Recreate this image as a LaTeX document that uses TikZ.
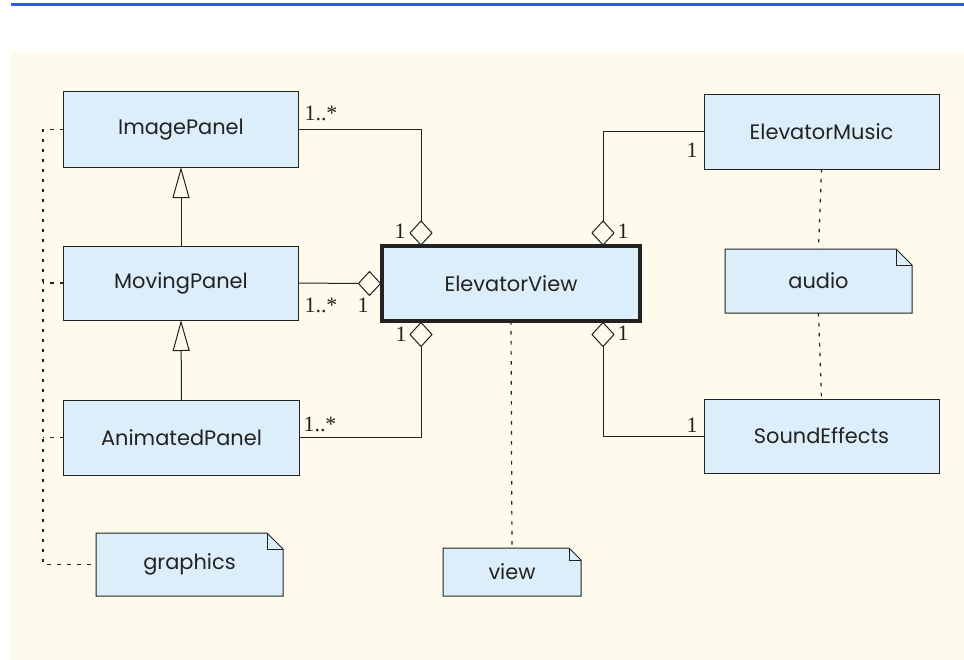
\documentclass[tikz,border=0pt]{standalone}
\usepackage{fontspec}
\setmainfont{Poppins}
\newfontfamily\multfont{Liberation Serif}
\usetikzlibrary{shapes.geometric,arrows.meta}
\definecolor{cream}{RGB}{254,250,236}
\definecolor{boxblue}{RGB}{220,238,250}
\definecolor{topblue}{RGB}{50,88,236}
\definecolor{ink}{RGB}{34,34,34}
\tikzset{
  cls/.style={draw=ink, fill=boxblue, line width=1bp, inner sep=0pt, outer sep=0pt,
    font=\fontsize{21}{24}\selectfont, text=ink},
  notebox/.style={inner sep=0pt, outer sep=0pt, font=\fontsize{21}{24}\selectfont, text=ink},
  diam/.style={diamond, draw=ink, fill=cream, line width=1bp, inner sep=0pt, outer sep=0pt,
    minimum width=22bp, minimum height=24bp},
  conn/.style={draw=ink, line width=1bp},
  dashline/.style={draw=ink, line width=1.2bp, dash pattern=on 3.5bp off 6.5bp},
  mult/.style={font=\multfont\fontsize{22}{24}\selectfont, text=ink, inner sep=0pt},
  inherit/.style={conn, -{Triangle[fill=cream, width=17bp, length=31bp, line width=1bp]}}
}
\newcommand{\notedraw}[2]{%
  \draw[draw=ink, fill=boxblue, line width=1bp]
    (#1.south west) -- (#1.north west) -- ([xshift=-#2]#1.north east)
    -- ([yshift=-#2]#1.north east) -- (#1.south east) -- cycle;
  \draw[draw=ink, line width=1bp]
    ([xshift=-#2]#1.north east) -- ([xshift=-#2,yshift=-#2]#1.north east)
    -- ([yshift=-#2]#1.north east);
}
\begin{document}
\begin{tikzpicture}[x=1bp, y=-1bp]
\useasboundingbox (0,0) rectangle (964,660);
\fill[cream] (11,52) rectangle (964,660);
\draw[topblue, line width=3bp] (11,5) -- (964,5);

% classes
\node[cls, minimum width=234bp, minimum height=75bp] (ip) at (181,129.5) {ImagePanel};
\node[cls, minimum width=234bp, minimum height=74bp] (mp) at (181,283) {MovingPanel};
\node[cls, minimum width=235bp, minimum height=75bp] (ap) at (181.5,437.5) {AnimatedPanel};
\node[cls, line width=3.5bp, minimum width=258bp, minimum height=75bp] (ev) at (511,283.5) {ElevatorView};
\node[cls, minimum width=235bp, minimum height=74bp] (em) at (821.5,132) {ElevatorMusic};
\node[cls, minimum width=235bp, minimum height=74bp] (se) at (821.5,436) {SoundEffects};

% notes
\node[notebox, minimum width=187bp, minimum height=63bp] (gr) at (189.5,564.5) {};
\notedraw{gr}{16bp}
\node[notebox] at (gr) {graphics};
\node[notebox, minimum width=138bp, minimum height=48bp] (vw) at (512,572) {};
\notedraw{vw}{12bp}
\node[notebox] at (vw) {view};
\node[notebox, minimum width=187bp, minimum height=64bp] (au) at (818.5,281) {};
\notedraw{au}{16bp}
\node[notebox] at (au) {audio};

% diamonds
\node[diam, anchor=south] (d1) at (421,245) {};
\node[diam, anchor=east] (d2) at (380.5,283.5) {};
\node[diam, anchor=north] (d3) at (421,322.5) {};
\node[diam, anchor=south] (d4) at (603,245) {};
\node[diam, anchor=north] (d5) at (603,322.5) {};

% aggregation connectors
\draw[conn] (ip.east) -| (d1.north);
\draw[conn] (mp.east) -- (d2.west);
\draw[conn] (d3.south) |- (ap.east);
\draw[conn] (d4.north) |- (em.west);
\draw[conn] (d5.south) |- (se.west);

% inheritance
\draw[inherit] (mp.north) -- (ip.south);
\draw[inherit] (ap.north) -- (mp.south);

% dashed dependencies
\coordinate (lc) at (43,564.5);
\draw[dashline] (ip.west) -- (ip.west -| lc) -- (lc) -- (gr.west);
\draw[dashline] (mp.west) -- (mp.west -| lc);
\draw[dashline] (ap.west) -- (ap.west -| lc);
\draw[dashline] (ev.south) -- (vw.north);
\draw[dashline] (em.south) -- (au.north);
\draw[dashline] (au.south) -- (se.north);

% multiplicities
\node[mult] (m1) at (321,113) {1..*};
\node[mult] (m2) at (400,231) {1};
\node[mult] (m3) at (321,305) {1..*};
\node[mult] (m4) at (363,305) {1};
\node[mult] (m5) at (401,334) {1};
\node[mult] (m6) at (320,424) {1..*};
\node[mult] (m7) at (623,231) {1};
\node[mult] (m8) at (623,333) {1};
\node[mult] (m9) at (692,150) {1};
\node[mult] (m10) at (692,425) {1};
\end{tikzpicture}
\end{document}
